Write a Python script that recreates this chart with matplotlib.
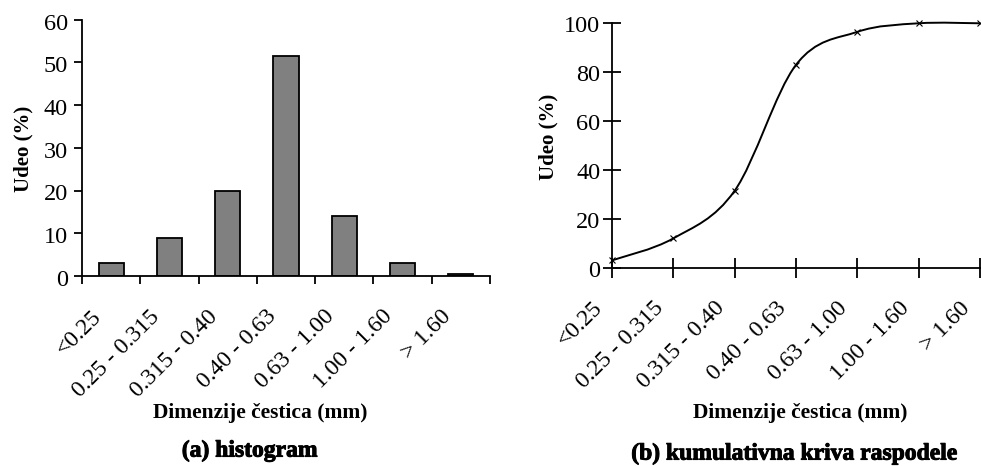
import matplotlib
matplotlib.use("Agg")
import matplotlib.pyplot as plt
from matplotlib.path import Path
from matplotlib.patches import PathPatch
from matplotlib.transforms import ScaledTranslation
import matplotlib.patheffects as pe
import numpy as np

categories = ["<0.25", "0.25 - 0.315", "0.315 - 0.40", "0.40 - 0.63", "0.63 - 1.00", "1.00 - 1.60", "> 1.60"]
hist_values = [3.0, 9.0, 20.0, 51.5, 14.0, 3.0, 0.4]
cum_values = [3.0, 12.0, 31.5, 83.0, 96.5, 100.0, 100.0]
hist_yticks = [0, 10, 20, 30, 40, 50, 60]
cum_yticks = [0, 20, 40, 60, 80, 100]

plt.rcParams['font.family'] = ['Liberation Serif', 'DejaVu Serif']

W, H = 981, 466
fig = plt.figure(figsize=(W / 100, H / 100), dpi=100)

def fx(px):
    return px / W

def fy(py):
    return 1 - py / H

def shift(labels, dx_px, dy_px):
    for lab in labels:
        lab.set_transform(lab.get_transform() +
                          ScaledTranslation(dx_px / 100, dy_px / 100, fig.dpi_scale_trans))

heavy = [pe.withStroke(linewidth=0.7, foreground="black")]

# ---- left: histogram ----
ax1 = fig.add_axes([fx(82), fy(276), fx(490) - fx(82), fy(19.5) - fy(276)])
x = np.arange(len(categories))
ax1.bar(x, hist_values, width=0.43, color="#808080", edgecolor="black", linewidth=1.3, zorder=2)
ax1.set_xlim(-0.5, len(categories) - 0.5)
ax1.set_ylim(0, 60)
ax1.set_yticks(hist_yticks)
ax1.set_yticklabels([str(v) for v in hist_yticks], fontsize=17.5)
ax1.set_xticks(np.arange(len(categories) + 1) - 0.5)
ax1.set_xticklabels([])
ax1.set_xticks(x, minor=True)
ax1.set_xticklabels(categories, minor=True, rotation=45, ha="right", va="center",
                    rotation_mode="anchor", fontsize=17)
ax1.tick_params(axis="x", which="minor", length=0, pad=27)
ax1.tick_params(axis="x", which="major", direction="out", length=6, width=1.3)
ax1.tick_params(axis="y", direction="out", length=6, width=1.3, pad=4)
shift(ax1.get_xticklabels(minor=True), -13, 0)
shift(ax1.get_yticklabels(), 0, -2)
for s in ["top", "right"]:
    ax1.spines[s].set_visible(False)
for s in ["left", "bottom"]:
    ax1.spines[s].set_linewidth(1.3)

fig.text(fx(23), fy(149), "Udeo (%)", rotation=90, ha="center", va="center",
         fontsize=15, fontweight="bold")
fig.text(fx(260), fy(413), "Dimenzije čestica (mm)", ha="center", va="center",
         fontsize=15.5, fontweight="bold")
fig.text(fx(250), fy(451), "(a) histogram", ha="center", va="center",
         fontsize=17, fontweight="bold", path_effects=heavy)

# ---- right: cumulative ----
ax2 = fig.add_axes([fx(612), fy(267.7), fx(980) - fx(612), fy(23.3) - fy(267.7)])
ax2.set_xlim(0, len(categories) - 1)
ax2.set_ylim(0, 100)
ax2.set_yticks(cum_yticks)
ax2.set_yticklabels([str(v) for v in cum_yticks], fontsize=17.5)
ax2.set_xticks(x)
ax2.set_xticklabels(categories, rotation=45, ha="right", va="center",
                    rotation_mode="anchor", fontsize=17)
ax2.tick_params(axis="x", direction="inout", length=14, width=1.3, pad=20)
ax2.tick_params(axis="y", direction="inout", length=13, width=1.3, pad=2)
shift(ax2.get_xticklabels(), -13, 0)
shift(ax2.get_yticklabels(), 0, -1)
for s in ["top", "right"]:
    ax2.spines[s].set_visible(False)
for s in ["left", "bottom"]:
    ax2.spines[s].set_linewidth(1.3)

# smooth curve (Catmull-Rom as cubic Bezier path through the data points)
pts = np.column_stack([x, cum_values]).astype(float)
verts = [tuple(pts[0])]
codes = [Path.MOVETO]
n = len(pts)
for i in range(n - 1):
    p0 = pts[max(i - 1, 0)]
    p1 = pts[i]
    p2 = pts[i + 1]
    p3 = pts[min(i + 2, n - 1)]
    c1 = p1 + (p2 - p0) / 6.0
    c2 = p2 - (p3 - p1) / 6.0
    verts += [tuple(c1), tuple(c2), tuple(p2)]
    codes += [Path.CURVE4] * 3
patch = PathPatch(Path(verts, codes), facecolor="none", edgecolor="black",
                  linewidth=1.4, clip_on=False, zorder=3)
ax2.add_patch(patch)
ax2.plot(x, cum_values, linestyle="none", marker="x", markersize=5,
         markeredgewidth=0.8, color="black", clip_on=False, zorder=4)

fig.text(fx(548), fy(137), "Udeo (%)", rotation=90, ha="center", va="center",
         fontsize=15, fontweight="bold")
fig.text(fx(800), fy(413), "Dimenzije čestica (mm)", ha="center", va="center",
         fontsize=15.5, fontweight="bold")
fig.text(fx(795), fy(454), "(b) kumulativna kriva raspodele", ha="center", va="center",
         fontsize=17, fontweight="bold", path_effects=heavy)

fig.savefig("out.png", dpi=100)
